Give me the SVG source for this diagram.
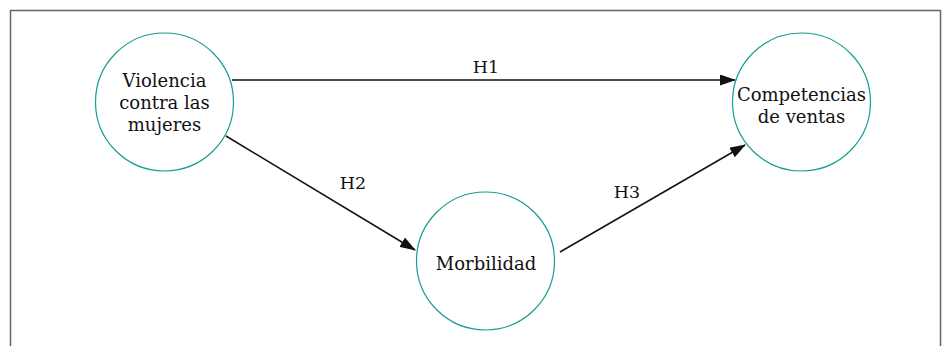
<svg xmlns="http://www.w3.org/2000/svg" width="946" height="346" viewBox="0 0 946 346">
<defs>
<style>
.node circle{fill:#fff;stroke:#159e92;stroke-width:1.2}
.lbl{font-family:"DejaVu Serif","Liberation Serif",serif;font-size:18px;fill:#111;text-anchor:middle}
.hl{font-family:"DejaVu Serif","Liberation Serif",serif;font-size:17.5px;fill:#111;text-anchor:middle}
.edge{stroke:#111;stroke-width:1.5;fill:none;marker-end:url(#ah)}
</style>
<marker id="ah" viewBox="0 0 16 11" refX="15" refY="5.5" markerWidth="16" markerHeight="11" markerUnits="userSpaceOnUse" orient="auto">
<path d="M0,0 L16,5.5 L0,11 Z" fill="#111"/>
</marker>
</defs>
<rect x="10.5" y="10.5" width="930" height="400" fill="#fff" stroke="#666" stroke-width="1.5"/>
<g id="connectors">
<path class="edge" d="M232,80 L735,80"/>
<path class="edge" d="M226,136 L415,250"/>
<path class="edge" d="M560,252 L745,145"/>
<text class="hl" x="486" y="73">H1</text>
<text class="hl" x="353" y="189">H2</text>
<text class="hl" x="627" y="198">H3</text>
</g>
<g id="node-violencia" class="node">
<circle cx="164.5" cy="102" r="69"/>
<text class="lbl" x="164.5" y="87">Violencia</text>
<text class="lbl" x="164.5" y="109">contra las</text>
<text class="lbl" x="164.5" y="131">mujeres</text>
</g>
<g id="node-competencias" class="node">
<circle cx="801.5" cy="102" r="69"/>
<text class="lbl" x="801.5" y="101">Competencias</text>
<text class="lbl" x="801.5" y="123">de ventas</text>
</g>
<g id="node-morbilidad" class="node">
<circle cx="485.5" cy="261" r="69"/>
<text class="lbl" x="486" y="270">Morbilidad</text>
</g>
</svg>
